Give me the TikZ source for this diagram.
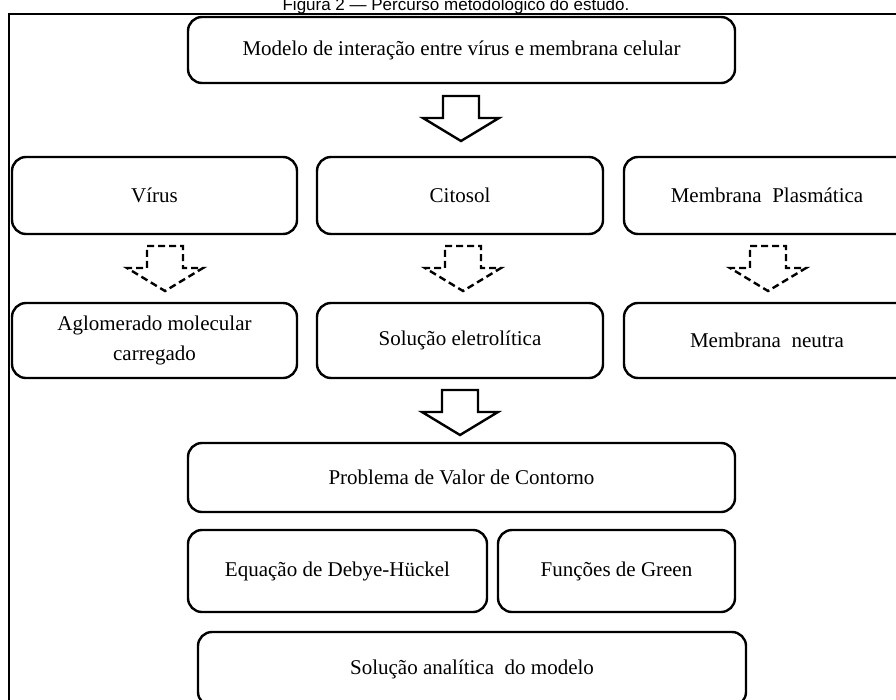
\documentclass[tikz,border=0pt]{standalone}
\usepackage{fontspec}
\setmainfont{Liberation Serif}
\newfontfamily\legendafont{Liberation Sans}
\usetikzlibrary{calc}

\tikzset{
  etapa/.style={draw, line width=2.4pt, rounded corners=14pt, align=center,
    font=\fontsize{21}{30}\selectfont},
  setabloco/.pic={
    \draw[line width=2.4pt, pic actions] (-18,0) -- (18,0) -- (18,22) -- (38,22)
      -- (0,45) -- (-38,22) -- (-18,22) -- cycle;
  },
  tracejada/.style={dash pattern=on 7pt off 4pt}
}

\begin{document}
\begin{tikzpicture}[x=1pt, y=-1pt, inner sep=0pt, outer sep=0pt]
  \useasboundingbox (0,0) rectangle (896,699);
  \clip (0,0) rectangle (896,699);
  % legenda (cortada no topo)
  \node[anchor=base, font=\legendafont\fontsize{17}{20}\selectfont] (legenda) at (456,10.5)
  {Figura 2 — Percurso metodológico do estudo.};
  \draw[line width=1.5pt] (9,720) -- (9,14) -- (920,14);

  \node[etapa, minimum width=547pt, minimum height=66pt] (modelo) at (461.5,50)
  {Modelo de interação entre vírus e membrana celular};
  \pic at (461,96) {setabloco};

  % primeira linha
  \node[etapa, minimum width=285pt, minimum height=77pt] (virus) at (154.5,195.5) {Vírus};
  \node[etapa, minimum width=286pt, minimum height=77pt] (citosol) at (460,195.5) {Citosol};
  \node[etapa, minimum width=286pt, minimum height=77pt] (membrana) at (767,195.5) {Membrana\ \ Plasmática};

  \pic[tracejada] at (165,246) {setabloco};
  \pic[tracejada] at (463,246) {setabloco};
  \pic[tracejada] at (768,246) {setabloco};

  % segunda linha
  \node[etapa, minimum width=285pt, minimum height=75pt] (aglomerado) at (154.5,340.5)
  {Aglomerado molecular\\carregado};
  \node[etapa, minimum width=286pt, minimum height=75pt] (solucao) at (460,340.5) {Solução eletrolítica};
  \node[etapa, minimum width=286pt, minimum height=75pt] (neutra) at (767,340.5) {Membrana\ \ neutra};

  \pic at (460,390) {setabloco};

  \node[etapa, minimum width=547pt, minimum height=69pt] (pvc) at (461.5,477.5)
  {Problema de Valor de Contorno};
  \node[etapa, minimum width=299pt, minimum height=82pt] (debye) at (337.5,571)
  {Equação de Debye-Hückel};
  \node[etapa, minimum width=237pt, minimum height=82pt] (green) at (616.5,571)
  {Funções de Green};
  \node[etapa, minimum width=548pt, minimum height=74pt] (analitica) at (472,669)
  {Solução analítica\ \ do modelo};
\end{tikzpicture}
\end{document}
